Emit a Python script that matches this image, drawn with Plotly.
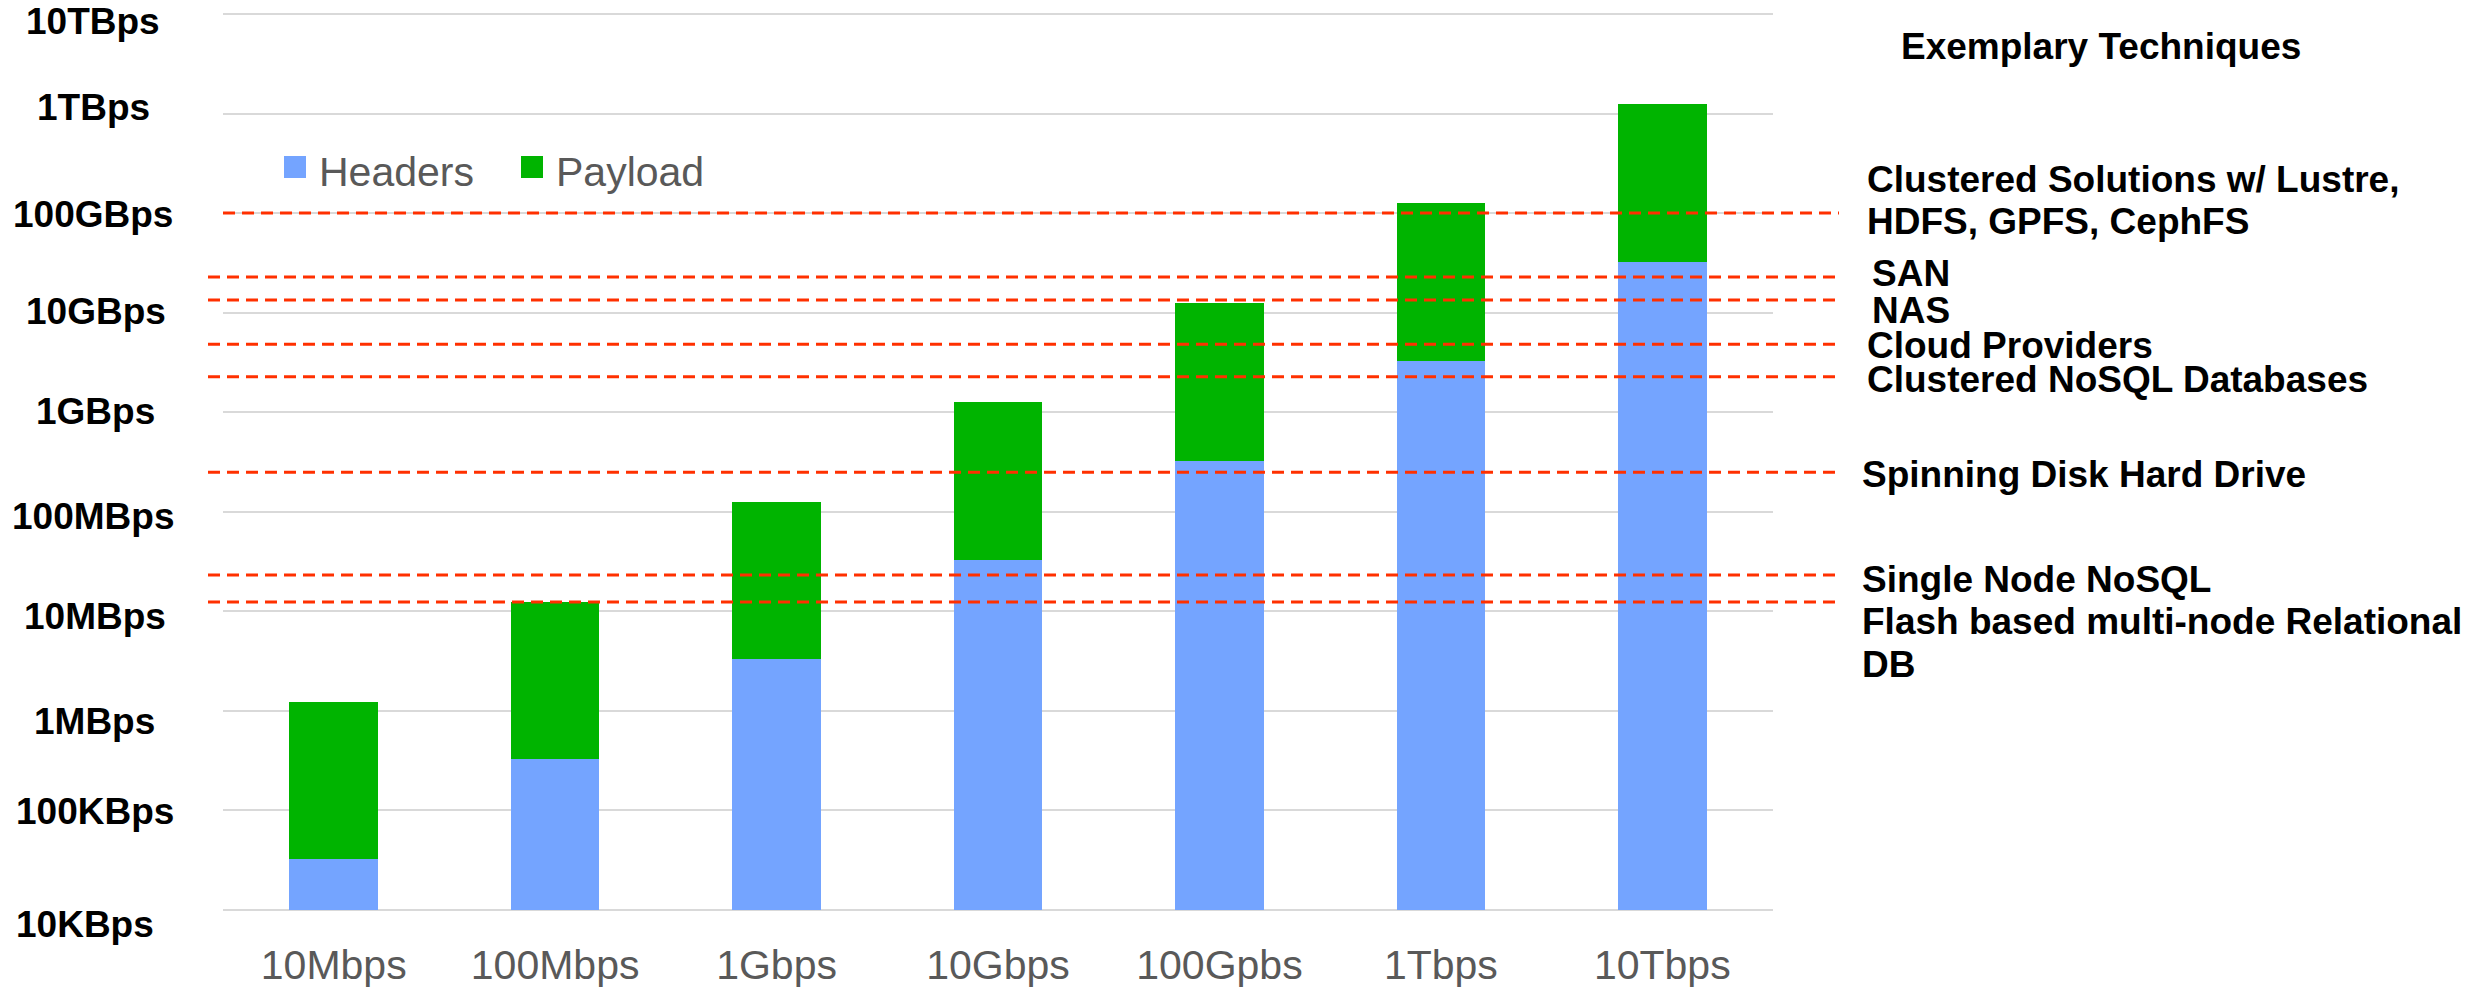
import numpy as np
import plotly.graph_objects as go

# ---- data (bytes per second) ----
link_speeds = ["10Mbps", "100Mbps", "1Gbps", "10Gbps", "100Gpbs", "1Tbps", "10Tbps"]
headers_Bps = [3.26e4, 3.29e5, 3.33e6, 3.28e7, 3.26e8, 3.27e9, 3.25e10]
payload_Bps = [1.20e6, 1.22e7, 1.22e8, 1.23e9, 1.22e10, 1.22e11, 1.22e12]

ytick_vals = [1e4, 1e5, 1e6, 1e7, 1e8, 1e9, 1e10, 1e11, 1e12, 1e13]
ytick_text = ["10KBps", "100KBps", "1MBps", "10MBps", "100MBps",
              "1GBps", "10GBps", "100GBps", "1TBps", "10TBps"]

# throughput of each storage technique (reference lines)
technique_rates = [1e11, 2.28e10, 1.34e10, 4.83e9, 2.27e9, 2.5e8, 2.32e7, 1.24e7]

technique_title = "Exemplary Techniques"
technique_lines = ["Clustered Solutions w/ Lustre,", "HDFS, GPFS, CephFS", "SAN", "NAS",
                   "Cloud Providers", "Clustered NoSQL Databases", "Spinning Disk Hard Drive",
                   "Single Node NoSQL", "Flash based multi-node Relational", "DB"]

series_names = ["Headers", "Payload"]

# ---- layout constants (pixels) ----
W, H = 2472, 987
L, R, T, B = 223, 1773, 14, 910
FONT = "Liberation Sans, Arial, Helvetica, sans-serif"
BLUE, GREEN, RED, GREY, GRID = "#74a4ff", "#00b400", "#ff3000", "#595959", "#d9d9d9"


def px_x(px):
    return (px - L) / (R - L)


def px_y(py):
    return (B - py) / (B - T)


fig = go.Figure()
fig.add_trace(go.Bar(x=link_speeds, y=headers_Bps, name=series_names[0],
                     marker=dict(color=BLUE, line=dict(width=0))))
fig.add_trace(go.Bar(x=link_speeds, y=payload_Bps, name=series_names[1],
                     marker=dict(color=GREEN, line=dict(width=0))))

shapes = []
annotations = []

# gridlines at the two ends of the value range
for yp in (0, 1):
    shapes.append(dict(type="line", xref="paper", yref="paper", x0=0, x1=1, y0=yp, y1=yp,
                       line=dict(color=GRID, width=2), layer="below"))

# dashed technique reference lines (shape positions on a log axis are data values)
line_start_px = [223, 208, 208, 208, 208, 208, 208, 208]
for rate, x0 in zip(technique_rates, line_start_px):
    shapes.append(dict(type="line", xref="paper", yref="y",
                       x0=px_x(x0), x1=px_x(1839), y0=rate, y1=rate,
                       line=dict(color=RED, width=3, dash="12px,7px"), layer="above"))

# technique labels on the right
bold37 = dict(family=FONT, size=37, color="black", weight="bold")
annotations.append(dict(text=technique_title, xref="paper", yref="paper",
                        x=px_x(1899), y=px_y(47), xanchor="left", yanchor="middle",
                        showarrow=False, font=bold37))
label_x_px = [1865, 1865, 1870, 1870, 1865, 1865, 1860, 1860, 1860, 1860]
label_y_px = [180, 222, 273, 310, 345, 379, 474, 579, 621, 664]
for txt, lx, ly in zip(technique_lines, label_x_px, label_y_px):
    annotations.append(dict(text=txt, xref="paper", yref="paper",
                            x=px_x(lx), y=px_y(ly), xanchor="left", yanchor="middle",
                            showarrow=False, font=bold37))

# y tick labels (bold, centred in the left margin)
tick_x_px = [85, 95, 94, 95, 93, 95, 96, 93, 93, 93]
tick_dy_px = [14, 1, 11, 5, 5, -1, -1, 1, -6, 7]
for v, t, tx, dy in zip(ytick_vals, ytick_text, tick_x_px, tick_dy_px):
    annotations.append(dict(text=t, xref="paper", yref="y",
                            x=px_x(tx), y=np.log10(v), yshift=-dy,
                            xanchor="center", yanchor="middle", showarrow=False,
                            font=bold37))

# legend
legend_items = [(series_names[0], BLUE, 284), (series_names[1], GREEN, 521)]
for name, col, lx in legend_items:
    shapes.append(dict(type="rect", xref="paper", yref="paper",
                       x0=px_x(lx), x1=px_x(lx + 22), y0=px_y(178), y1=px_y(156),
                       fillcolor=col, line=dict(width=0), layer="above"))
    annotations.append(dict(text=name, xref="paper", yref="paper",
                            x=px_x(lx + 33), y=px_y(172), xanchor="left", yanchor="middle",
                            showarrow=False, font=dict(family=FONT, size=41, color=GREY)))

fig.update_layout(
    width=W, height=H,
    margin=dict(l=L, r=W - R, t=T, b=H - B, pad=0, autoexpand=False),
    paper_bgcolor="white", plot_bgcolor="white",
    barmode="stack", bargap=0.6,
    showlegend=False,
    font=dict(family=FONT),
    shapes=shapes, annotations=annotations,
    xaxis=dict(showgrid=False, showline=False, zeroline=False, ticks="",
               tickfont=dict(family=FONT, size=41, color=GREY),
               ticklabelstandoff=27, automargin=False),
    yaxis=dict(type="log", range=[4, 13], dtick=1, showgrid=True,
               gridcolor=GRID, gridwidth=2, zeroline=False,
               showticklabels=False, ticks="", automargin=False),
)

fig.write_html("out.html")
